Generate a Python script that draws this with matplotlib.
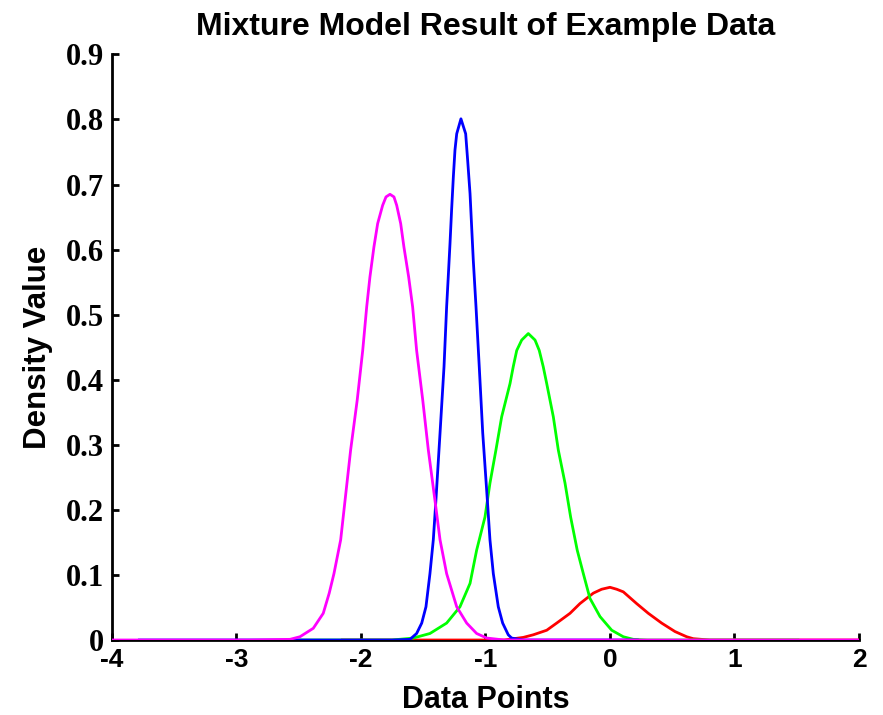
import numpy as np
import matplotlib.pyplot as plt

# values (x, density)
magenta_x = [-4.0, -2.9, -2.57, -2.49, -2.383, -2.303, -2.255, -2.217, -2.163, -2.083, -2.03,
             -1.986, -1.954, -1.928, -1.896, -1.866, -1.826, -1.799, -1.767, -1.735, -1.713,
             -1.681, -1.655, -1.617, -1.585, -1.553, -1.504, -1.459, -1.406, -1.365, -1.312,
             -1.231, -1.151, -1.071, -0.99, -0.85, 2.0]
magenta_y = [0.0, 0.0, 0.001, 0.005, 0.018, 0.041, 0.072, 0.102, 0.154, 0.292, 0.369,
             0.445, 0.512, 0.558, 0.604, 0.640, 0.668, 0.681, 0.685, 0.681, 0.668,
             0.640, 0.604, 0.558, 0.512, 0.445, 0.369, 0.292, 0.215, 0.154, 0.102,
             0.051, 0.026, 0.010, 0.003, 0.0, 0.0]

blue_x = [-3.78, -1.75, -1.606, -1.553, -1.512, -1.478, -1.446, -1.419, -1.398, -1.365,
          -1.333, -1.312, -1.299, -1.285, -1.272, -1.258, -1.245, -1.231, -1.197,
          -1.159, -1.143, -1.124, -1.111, -1.098, -1.076, -1.05, -1.022, -0.985,
          -0.964, -0.937, -0.897, -0.862, -0.817, -0.79, -0.7, 0.22]
blue_y = [0.0, 0.0, 0.001, 0.010, 0.026, 0.051, 0.102, 0.154, 0.215, 0.318,
          0.420, 0.512, 0.558, 0.609, 0.661, 0.712, 0.753, 0.778, 0.801,
          0.778, 0.737, 0.686, 0.635, 0.584, 0.512, 0.420, 0.318, 0.215,
          0.154, 0.102, 0.051, 0.026, 0.008, 0.003, 0.0, 0.0]

green_x = [-2.5, -1.75, -1.58, -1.446, -1.312, -1.205, -1.124, -1.071, -1.004, -0.964,
           -0.916, -0.87, -0.803, -0.777, -0.749, -0.709, -0.656, -0.602, -0.568, -0.536,
           -0.508, -0.455, -0.415, -0.361, -0.316, -0.263, -0.214, -0.161, -0.08, 0.014,
           0.107, 0.187, 0.3, 1.51]
green_y = [0.0, 0.0, 0.003, 0.010, 0.026, 0.051, 0.087, 0.138, 0.189, 0.241,
           0.292, 0.343, 0.394, 0.420, 0.445, 0.461, 0.471, 0.461, 0.445, 0.420,
           0.394, 0.343, 0.292, 0.241, 0.189, 0.138, 0.102, 0.064, 0.036, 0.015,
           0.005, 0.001, 0.0, 0.0]

red_x = [-2.15, -0.85, -0.696, -0.616, -0.508, -0.428, -0.321, -0.241, -0.134, -0.067, 0.0,
         0.054, 0.107, 0.214, 0.308, 0.415, 0.522, 0.616, 0.669, 0.8, 2.0]
red_y = [0.0, 0.0, 0.004, 0.008, 0.015, 0.026, 0.041, 0.056, 0.072, 0.078, 0.081,
         0.078, 0.074, 0.056, 0.041, 0.026, 0.013, 0.005, 0.002, 0.0, 0.0]

xticks = [-4, -3, -2, -1, 0, 1, 2]
yticks = [0, 0.1, 0.2, 0.3, 0.4, 0.5, 0.6, 0.7, 0.8, 0.9]
ytick_labels = ["0", "0.1", "0.2", "0.3", "0.4", "0.5", "0.6", "0.7", "0.8", "0.9"]

fig = plt.figure(figsize=(8.83, 7.15), dpi=100)
ax = fig.add_axes([0.1268, 0.1049, 0.846, 0.819])

lw = 2.0
ax.plot(red_x, red_y, color="#ff0000", lw=lw, zorder=3)
ax.plot(green_x, green_y, color="#00ff00", lw=lw, zorder=4)
ax.plot(blue_x, blue_y, color="#0000ff", lw=lw, zorder=5)
ax.plot(magenta_x, magenta_y, color="#ff00ff", lw=lw, zorder=6)

ax.set_xlim(-4, 2)
ax.set_ylim(0, 0.9)
ax.set_xticks(xticks)
ax.set_xticklabels([str(t) for t in xticks], fontsize=19, fontweight="bold",
                   family="Liberation Sans")
ax.set_yticks(yticks)
ax.set_yticklabels(ytick_labels, fontsize=22, fontweight="bold", family="Liberation Serif")

ax.spines["top"].set_visible(False)
ax.spines["right"].set_visible(False)
ax.spines["left"].set_linewidth(2)
ax.spines["bottom"].set_linewidth(2)
ax.tick_params(direction="in", length=5, width=2)
ax.tick_params(axis="x", pad=6)
ax.tick_params(axis="y", pad=6)

ax.set_title("Mixture Model Result of Example Data", fontsize=23, fontweight="bold",
             family="Liberation Sans", pad=14)
ax.set_xlabel("Data Points", fontsize=22, fontweight="bold", family="Liberation Sans",
              labelpad=9)
ax.set_ylabel("Density Value", fontsize=22.5, fontweight="bold", family="Liberation Sans",
              labelpad=9)

fig.savefig("out.png", dpi=100)
